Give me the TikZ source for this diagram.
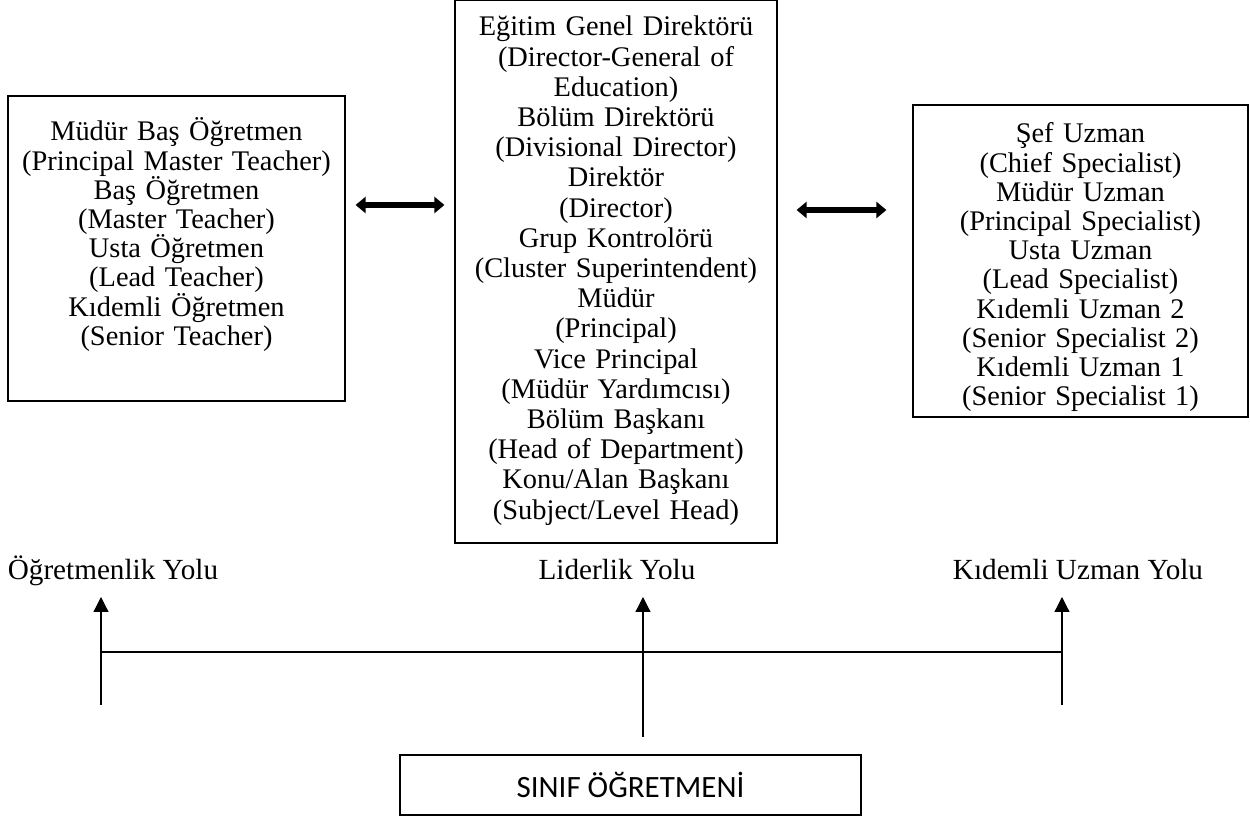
\documentclass[tikz,border=0pt]{standalone}
\usepackage{fontspec}
\setmainfont{Liberation Serif}
\newfontfamily\calibrifont{Carlito}
\usetikzlibrary{arrows.meta,positioning}

\begin{document}
\begin{tikzpicture}[x=0.5pt, y=-0.5pt,
  pathbox/.style={draw, line width=0.6pt, inner sep=0pt},
  boxtext/.style={anchor=base, align=center, text width=160pt, inner sep=0pt,
    font=\fontsize{14.2}{14.6}\selectfont,
    execute at begin node={\baselineskip=#1\lineskiplimit=-10pt}},
  boxtext/.default=14.6pt,
  pathlabel/.style={anchor=base, inner sep=0pt, font=\fontsize{14.6}{16}\selectfont},
  bigarrow/.style={line width=3pt, {Triangle[length=5pt,width=8pt]}-{Triangle[length=5pt,width=8pt]}},
  uparrow/.style={line width=0.6pt, -{Triangle[length=7.5pt,width=7.5pt]}}]
\useasboundingbox (0,0) rectangle (1250,818);

% career path boxes
\node[pathbox, minimum width=168.5pt, minimum height=152.5pt] (ogrbox) at (176.5,248.5) {};
\node[pathbox, minimum width=161pt, minimum height=271.5pt] (lidbox) at (616,271.5) {};
\node[pathbox, minimum width=167.5pt, minimum height=156pt] (uzmbox) at (1080.5,261) {};

\node[boxtext] (ogrtext) at (ogrbox.north |- 0,141) {Müdür Baş Öğretmen\\(Principal Master Teacher)\\Baş Öğretmen\\(Master Teacher)\\Usta Öğretmen\\(Lead Teacher)\\Kıdemli Öğretmen\\(Senior Teacher)};
\node[boxtext=15.1pt] (lidtext) at (lidbox.north |- 0,36) {Eğitim Genel Direktörü\\(Director-General of\\Education)\\Bölüm Direktörü\\(Divisional Director)\\Direktör\\(Director)\\Grup Kontrolörü\\(Cluster Superintendent)\\Müdür\\(Principal)\\Vice Principal\\(Müdür Yardımcısı)\\Bölüm Başkanı\\(Head of Department)\\Konu/Alan Başkanı\\(Subject/Level Head)};
\node[boxtext] (uzmtext) at (uzmbox.north |- 0,143) {Şef Uzman\\(Chief Specialist)\\Müdür Uzman\\(Principal Specialist)\\Usta Uzman\\(Lead Specialist)\\Kıdemli Uzman 2\\(Senior Specialist 2)\\Kıdemli Uzman 1\\(Senior Specialist 1)};

% double arrows between the boxes
\coordinate (yl) at (0,205);
\coordinate (yr) at (0,210);
\draw[bigarrow, shorten <=5pt, shorten >=5pt] (ogrbox.east |- yl) -- (lidbox.west |- yl);
\draw[bigarrow, shorten <=9.5pt, shorten >=13pt] (lidbox.east |- yr) -- (uzmbox.west |- yr);

% path names
\node[pathlabel] (ogrlabel) at (113,580) {Öğretmenlik Yolu};
\node[pathlabel] (lidlabel) at (617,580) {Liderlik Yolu};
\node[pathlabel] (uzmlabel) at (1078,580) {Kıdemli Uzman Yolu};

% classroom teacher
\node[pathbox, minimum width=230.5pt, minimum height=30pt,
  font=\calibrifont\fontsize{15.5}{18}\selectfont] (sinif) at (630.5,785) {SINIF ÖĞRETMENİ};

\coordinate (ltop) at (101,597);
\coordinate (lbot) at (101,705);
\coordinate (ctop) at (643,597);
\coordinate (cbot) at (643,737);
\coordinate (rtop) at (1062,597);
\coordinate (rbot) at (1062,705);

\draw[uparrow] (lbot) -- (ltop);
\draw[uparrow] (cbot) -- (ctop);
\draw[uparrow] (rbot) -- (rtop);
\draw[line width=0.6pt] (lbot |- 0,652) -- (rbot |- 0,652);
\end{tikzpicture}
\end{document}
